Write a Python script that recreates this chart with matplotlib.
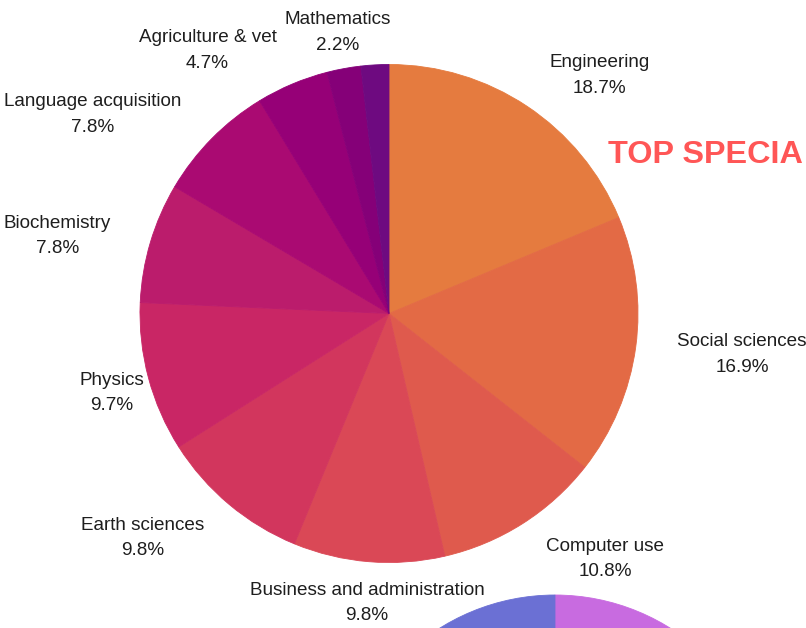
import numpy as np
import matplotlib
matplotlib.use("Agg")
import matplotlib.pyplot as plt

plt.rcParams['font.family'] = ['Liberation Sans', 'DejaVu Sans']

# Share of students by specialty (percent)
specialties = ["Engineering", "Social sciences", "Computer use",
               "Business and administration", "Earth sciences", "Physics",
               "Biochemistry", "Language acquisition", "Agriculture & vet",
               "Mathematics", "Other"]
shares = [18.7, 16.9, 10.8, 9.8, 9.8, 9.7, 7.8, 7.8, 4.7, 2.2, 1.8]
show_label = [True] * 10 + [False]
slice_colors = ["#E57B3F", "#E36A45", "#DF5A4D", "#DA4856", "#D2365D",
                "#C92665", "#BB1C6C", "#AA0A72", "#960077", "#850078",
                "#6E0A80"]

# Second chart, only its top edge sits inside the canvas
second_values = [50, 50]
second_colors = ["#C86BE0", "#6B70D4"]

title_text = "TOP SPECIA"

# Small label nudges in pixels (right, down) to keep labels clear of each other
label_nudge = [(11, 7), (22, 5), (13, -3), (0, 0), (-12, -3), (15, 10),
               (-20, -1), (-16, 11), (-8, 6), (-3, 5), (0, 0)]

W, H = 806, 628
fig = plt.figure(figsize=(W / 100, H / 100), dpi=100)
ax = fig.add_axes([0, 0, 1, 1])

cx, cy, R = 389, H - 313.5, 249
wedges, _ = ax.pie(shares, colors=slice_colors, startangle=90,
                   counterclock=False, center=(cx, cy), radius=R,
                   wedgeprops=dict(linewidth=0.6))

wedges2, _ = ax.pie(second_values, colors=second_colors, startangle=90,
                    counterclock=False, center=(555, H - 812), radius=217,
                    wedgeprops=dict(linewidth=0.6))

# Edge each wedge in its own colour so no seams show between slices
for w in list(wedges) + list(wedges2):
    w.set_edgecolor(w.get_facecolor())

# Labels outside the pie, aligned by the direction of the slice middle
cum = np.cumsum([0] + shares[:-1])
total = sum(shares)
for name, val, start, show, (ndx, ndy) in zip(specialties, shares, cum,
                                               show_label, label_nudge):
    if not show:
        continue
    mid = (start + val / 2) / total * 2 * np.pi  # clockwise from top
    s, c = np.sin(mid), np.cos(mid)
    r_lab = R * 1.08
    x, y = cx + r_lab * s + ndx, cy + r_lab * c - ndy
    ha = "left" if s > 0.3 else ("right" if s < -0.3 else "center")
    va = "bottom" if c > 0.3 else ("top" if c < -0.3 else "center")
    ax.text(x, y, f"{name}\n{val}%", ha=ha, va=va, multialignment="center",
            fontsize=13.6, color="#1E1E1E", linespacing=1.66)

ax.text(608, H - 163, title_text, ha="left", va="baseline",
        fontsize=23.3, fontweight="bold", color="#FF5656")

ax.set_xlim(0, W)
ax.set_ylim(0, H)
ax.set_aspect("auto")
ax.set_axis_off()

fig.savefig("out.png", dpi=100)
